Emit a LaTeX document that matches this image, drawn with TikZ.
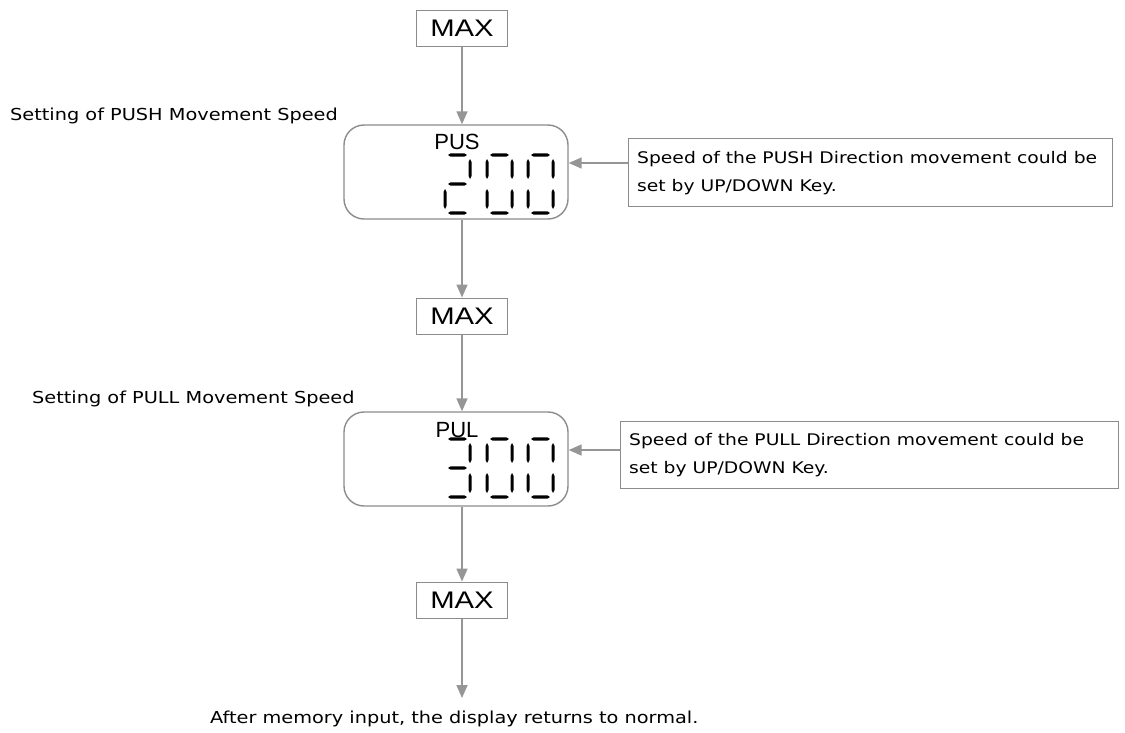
\documentclass[tikz,border=0pt]{standalone}
\usepackage{fontspec}
\setmainfont{Liberation Sans}
\newfontfamily\lblfont[FakeStretch=1.17]{DejaVu Sans}
\newfontfamily\maxfont[FakeStretch=1.22]{Liberation Sans}
\usetikzlibrary{arrows.meta}
\definecolor{linegray}{RGB}{150,150,150}
\definecolor{boxgray}{RGB}{140,140,140}
% segment helpers (x0,y0 = top-left of digit)
\newcommand{\hseg}[3]{\fill (#1,#3) -- (#1+2.5,#3-1.6) -- (#2-2.5,#3-1.6) -- (#2,#3) -- (#2-2.5,#3+1.6) -- (#1+2.5,#3+1.6) -- cycle;}
\newcommand{\vseg}[3]{\fill (#1,#2) -- (#1+1.5,#2+3) -- (#1+1.5,#3-3) -- (#1,#3) -- (#1-1.5,#3-3) -- (#1-1.5,#2+3) -- cycle;}
\newcommand{\sA}[2]{\hseg{#1+3}{#1+22}{#2}}
\newcommand{\sB}[2]{\vseg{#1+25}{#2+4}{#2+24}}
\newcommand{\sC}[2]{\vseg{#1+25}{#2+34}{#2+54}}
\newcommand{\sD}[2]{\hseg{#1+3}{#1+22}{#2+58}}
\newcommand{\sE}[2]{\vseg{#1}{#2+34}{#2+54}}
\newcommand{\sF}[2]{\vseg{#1}{#2+4}{#2+24}}
\newcommand{\sG}[2]{\hseg{#1+3}{#1+22}{#2+29}}
\newcommand{\digtwo}[2]{\sA{#1}{#2}\sB{#1}{#2}\sG{#1}{#2}\sE{#1}{#2}\sD{#1}{#2}}
\newcommand{\digthree}[2]{\sA{#1}{#2}\sB{#1}{#2}\sG{#1}{#2}\sC{#1}{#2}\sD{#1}{#2}}
\newcommand{\digzero}[2]{\sA{#1}{#2}\sB{#1}{#2}\sC{#1}{#2}\sD{#1}{#2}\sE{#1}{#2}\sF{#1}{#2}}
\begin{document}
\begin{tikzpicture}[x=1pt,y=-1pt,
  arr/.style={draw=linegray,line width=1.6pt,-{Triangle[length=13pt,width=11pt]}},
  maxbox/.style={draw=boxgray,line width=1pt,minimum width=91pt,minimum height=36pt,inner sep=0pt,font=\maxfont\fontsize{24}{24}\selectfont},
  dispbox/.style={draw=boxgray,line width=1.4pt,rounded corners=20pt,minimum width=224pt,minimum height=94pt,inner sep=0pt},
  callbox/.style={draw=boxgray,line width=1pt,inner sep=0pt},
  lbl/.style={inner sep=0pt,font=\lblfont\fontsize{16.5}{28}\selectfont,align=left},
  ctxt/.style={inner sep=0pt,font=\lblfont\fontsize{16}{28}\selectfont,align=left},
  disptxt/.style={inner sep=0pt,font=\fontsize{22}{22}\selectfont}]
\useasboundingbox (0,0) rectangle (1125,732);
% boxes
\node[maxbox] (max1) at (462,28) {MAX};
\node[dispbox] (disp1) at (456,172) {};
\node[maxbox] (max2) at (462,316) {MAX};
\node[dispbox] (disp2) at (456,459) {};
\node[maxbox] (max3) at (462,600) {MAX};
% labels
\node[lbl,anchor=base west] (lab1) at (10,120) {Setting of PUSH Movement Speed};
\node[lbl,anchor=base west] (lab2) at (32,403) {Setting of PULL Movement Speed};
\node[lbl,anchor=base west] (lab3) at (210,723) {After memory input, the display returns to normal.};
% callouts
\node[callbox,anchor=north west,minimum width=484pt,minimum height=68pt] (call1) at (628,138) {};
\node[ctxt,anchor=base west] (ct1) at (637,191) {Speed of the PUSH Direction movement could be\\set by UP/DOWN Key.};
\node[callbox,anchor=north west,minimum width=498pt,minimum height=67pt] (call2) at (620,421) {};
\node[ctxt,anchor=base west] (ct2) at (629,473) {Speed of the PULL Direction movement could be\\set by UP/DOWN Key.};
% display texts
\node[disptxt] (pus) at (457,142) {PUS};
\node[disptxt] (pul) at (457,430) {PUL};
% digits
\digtwo{445}{155}\digzero{487}{155}\digzero{528}{155}
\digthree{445}{439}\digzero{487}{439}\digzero{528}{439}
% connectors
\coordinate (endpt) at (462,698);
\coordinate (y1) at (0,163);
\coordinate (y2) at (0,450);
\draw[arr] (max1) -- (max1 |- disp1.north);
\draw[arr] (max2 |- disp1.south) -- (max2);
\draw[arr] (max2) -- (max2 |- disp2.north);
\draw[arr] (max3 |- disp2.south) -- (max3);
\draw[arr] (max3) -- (endpt);
\draw[arr] (call1.west |- y1) -- (disp1.east |- y1);
\draw[arr] (call2.west |- y2) -- (disp2.east |- y2);
\end{tikzpicture}
\end{document}
